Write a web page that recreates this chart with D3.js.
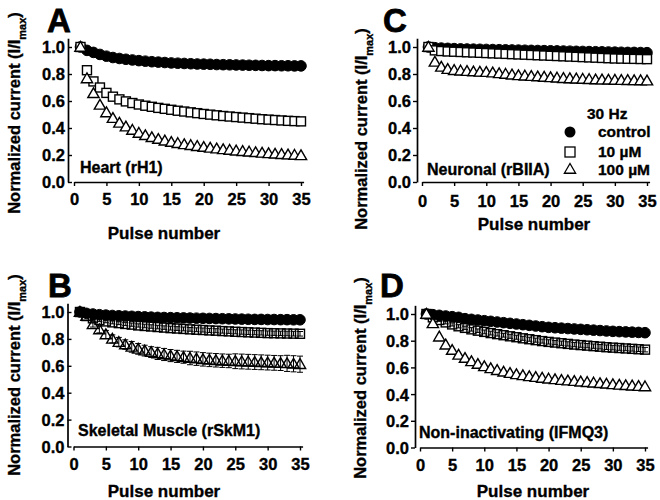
<!DOCTYPE html>
<html><head><meta charset="utf-8">
<script src="https://cdn.jsdelivr.net/npm/d3@7"></script>
<style>body{margin:0;background:#fff}svg{display:block}text{font-family:"Liberation Sans",Arial,sans-serif;font-weight:bold;fill:#000;stroke:#000;stroke-width:0.35px}</style>
</head><body><svg id="c" width="660" height="500"></svg>
<script>
const pulses = d3.range(1, 36);
const xTicks = [0,5,10,15,20,25,30,35];
const yTicks = [0,0.2,0.4,0.6,0.8,1.0];
const legendLabels = ["control","10 µM","100 µM"];
const legendTitle = "30 Hz";

// Panel A: Heart (rH1)
const heartControl = [1.00,0.975,0.96,0.945,0.932,0.922,0.915,0.909,0.904,0.899,0.895,0.891,0.888,0.885,0.882,0.880,0.878,0.876,0.874,0.873,0.872,0.870,0.869,0.868,0.867,0.866,0.865,0.864,0.863,0.862,0.862,0.861,0.861,0.860,0.860];
const heart10 = [1.00,0.828,0.745,0.70,0.66,0.632,0.612,0.597,0.585,0.574,0.565,0.557,0.549,0.542,0.535,0.528,0.522,0.516,0.510,0.504,0.499,0.494,0.489,0.485,0.481,0.477,0.473,0.469,0.465,0.462,0.459,0.456,0.453,0.451,0.449];
const heart100 = [1.00,0.767,0.657,0.571,0.515,0.473,0.438,0.41,0.385,0.363,0.346,0.331,0.318,0.306,0.296,0.287,0.279,0.272,0.265,0.259,0.253,0.247,0.242,0.237,0.232,0.228,0.224,0.220,0.216,0.212,0.209,0.206,0.203,0.200,0.197];

// Panel C: Neuronal (rBIIA)
const neuroControl = [1.00,0.995,0.992,0.99,0.988,0.986,0.985,0.984,0.983,0.982,0.981,0.980,0.979,0.978,0.977,0.976,0.975,0.974,0.973,0.972,0.971,0.970,0.969,0.968,0.967,0.966,0.965,0.964,0.963,0.962,0.961,0.960,0.960,0.959,0.958];
const neuro10 = [1.00,0.975,0.970,0.967,0.965,0.963,0.961,0.959,0.957,0.955,0.953,0.951,0.949,0.947,0.945,0.943,0.941,0.939,0.937,0.935,0.933,0.931,0.929,0.927,0.925,0.923,0.921,0.919,0.917,0.915,0.914,0.913,0.912,0.911,0.910];
const neuro100 = [1.00,0.89,0.853,0.836,0.828,0.824,0.821,0.818,0.816,0.814,0.81,0.805,0.80,0.795,0.79,0.787,0.784,0.781,0.778,0.775,0.772,0.769,0.767,0.765,0.763,0.761,0.759,0.758,0.757,0.756,0.755,0.754,0.753,0.752,0.751];

// Panel B: Skeletal Muscle (rSkM1)
const skelControl = [1.00,0.99,0.985,0.98,0.977,0.974,0.972,0.970,0.968,0.966,0.964,0.962,0.960,0.959,0.958,0.957,0.956,0.955,0.954,0.953,0.952,0.951,0.950,0.949,0.948,0.947,0.946,0.945,0.945,0.944,0.944,0.943,0.943,0.942,0.942];
const skel10 = [1.00,0.97,0.953,0.94,0.93,0.923,0.917,0.911,0.906,0.90,0.896,0.892,0.888,0.884,0.88,0.877,0.874,0.871,0.868,0.866,0.863,0.861,0.858,0.856,0.853,0.851,0.849,0.847,0.845,0.843,0.842,0.841,0.840,0.839,0.838];
const skel10Err = [0,0.006,0.008,0.01,0.01,0.011,0.011,0.012,0.012,0.012,0.013,0.013,0.013,0.013,0.014,0.014,0.014,0.014,0.014,0.015,0.015,0.015,0.015,0.015,0.015,0.016,0.016,0.016,0.016,0.016,0.016,0.016,0.017,0.017,0.017];
const skel100 = [1.00,0.97,0.908,0.87,0.833,0.80,0.776,0.758,0.741,0.726,0.713,0.702,0.692,0.684,0.676,0.670,0.664,0.658,0.653,0.648,0.644,0.641,0.638,0.636,0.634,0.632,0.630,0.628,0.626,0.624,0.622,0.62,0.618,0.615,0.612];
const skel100Err = [0,0.01,0.02,0.025,0.03,0.03,0.035,0.035,0.04,0.04,0.04,0.04,0.045,0.045,0.045,0.045,0.045,0.05,0.05,0.05,0.05,0.05,0.05,0.05,0.055,0.055,0.055,0.055,0.055,0.055,0.055,0.055,0.06,0.06,0.06];

// Panel D: Non-inactivating (IFMQ3)
const nonControl = [1.00,0.995,0.99,0.985,0.98,0.975,0.965,0.96,0.955,0.95,0.945,0.94,0.935,0.93,0.925,0.92,0.915,0.91,0.905,0.90,0.897,0.894,0.891,0.888,0.885,0.882,0.879,0.876,0.873,0.87,0.868,0.866,0.864,0.862,0.86];
const non10 = [1.00,0.975,0.955,0.937,0.922,0.908,0.896,0.885,0.875,0.866,0.857,0.849,0.841,0.833,0.826,0.818,0.811,0.804,0.797,0.791,0.786,0.781,0.776,0.771,0.767,0.763,0.759,0.755,0.751,0.748,0.745,0.742,0.739,0.736,0.733];
const non10Err = [0,0.008,0.01,0.011,0.012,0.012,0.013,0.013,0.013,0.014,0.014,0.014,0.014,0.015,0.015,0.015,0.015,0.015,0.015,0.016,0.016,0.016,0.016,0.016,0.016,0.016,0.016,0.017,0.017,0.017,0.017,0.017,0.017,0.017,0.017];
const non100 = [1.00,0.93,0.83,0.77,0.73,0.694,0.67,0.645,0.625,0.608,0.593,0.579,0.567,0.557,0.548,0.540,0.533,0.527,0.521,0.515,0.510,0.505,0.501,0.497,0.493,0.489,0.485,0.481,0.477,0.473,0.469,0.466,0.463,0.460,0.457];

const panels = [
  {letter:"A", title:"Heart (rH1)", ax:68, x0:74, x35:301, y0:182, y1:47, inward:true,
   lx:47, ly:32, tx:80, ty:173, ylx:20, yly:113, xlx:164, xly:239, tly:205,
   series:[heartControl, heart10, heart100], err:[null,null,null]},
  {letter:"C", title:"Neuronal (rBIIA)", ax:417, x0:422, x35:647, y0:182, y1:47, inward:false,
   lx:383, ly:32, tx:427, ty:175, ylx:367, yly:129, xlx:534, xly:230, tly:207,
   series:[neuroControl, neuro10, neuro100], err:[null,null,null], legend:true},
  {letter:"B", title:"Skeletal Muscle (rSkM1)", ax:67.5, x0:73.5, x35:300, y0:446.5, y1:312, inward:true,
   lx:48, ly:297, tx:78, ty:436, ylx:20, yly:375, xlx:164, xly:497, tly:470,
   series:[skelControl, skel10, skel100], err:[null,skel10Err,skel100Err]},
  {letter:"D", title:"Non-inactivating (IFMQ3)", ax:415, x0:420, x35:645, y0:447.5, y1:314, inward:false,
   lx:380, ly:297, tx:419, ty:438, ylx:366, yly:378, xlx:533, xly:497, tly:471,
   series:[nonControl, non10, non100], err:[null,non10Err,null]}
];

const svg = d3.select("#c");
const tri = d3.symbol().type(d3.symbolTriangle).size(55);
const sq = 9;

panels.forEach(p => {
  const g = svg.append("g");
  const x = d3.scaleLinear().domain([0,35]).range([p.x0, p.x35]);
  const y = d3.scaleLinear().domain([0,1]).range([p.y0, p.y1]);

  // y axis
  const yAx = d3.scaleLinear().domain([0,1.065]).range([p.y0, y(1.065)]);
  const ya = g.append("g").attr("transform",`translate(${p.ax},0)`)
    .call(d3.axisLeft(yAx).tickValues(yTicks).tickFormat(d3.format(".1f"))
      .tickSize(p.inward ? -4 : 4).tickSizeOuter(0).tickPadding(p.inward ? 3 : 2));
  ya.select(".domain").attr("stroke","#000").attr("stroke-width",1.7);
  ya.selectAll(".tick line").attr("stroke","#000").attr("stroke-width",1.4);
  ya.selectAll(".tick text").style("font-size","16.5px").attr("dy","0.36em");

  // x axis
  const xAx = d3.scaleLinear().domain([0,35.4]).range([p.x0, x(35.4)]);
  const xa = g.append("g").attr("transform",`translate(0,${p.y0})`)
    .call(d3.axisBottom(xAx).tickValues(xTicks).tickSize(4).tickSizeOuter(0));
  xa.select(".domain").attr("stroke","#000").attr("stroke-width",1.7);
  xa.selectAll(".tick line").attr("stroke","#000").attr("stroke-width",1.4);
  xa.selectAll(".tick text").style("font-size","16.5px").attr("dy",null).attr("y", p.tly - p.y0);

  // axis titles
  g.append("text").attr("x",p.xlx).attr("y",p.xly).attr("text-anchor","middle")
    .style("font-size","17px").text("Pulse number");
  const yl = g.append("text").attr("transform",`translate(${p.ylx},${p.yly}) rotate(-90)`)
    .attr("text-anchor","middle").style("font-size","16.5px");
  yl.append("tspan").text("Normalized current (I/I");
  yl.append("tspan").attr("baseline-shift","sub").style("font-size","11px").text("max");
  yl.append("tspan").text(")");

  g.append("text").attr("x",p.lx).attr("y",p.ly).style("font-size","33px").style("stroke-width","0.8px").text(p.letter);
  g.append("text").attr("x",p.tx).attr("y",p.ty).style("font-size","16px").text(p.title);

  // error bars
  p.err.forEach((e,i) => {
    if (!e) return;
    const s = p.series[i];
    const eg = g.append("g").attr("stroke","#000").attr("stroke-width",1);
    pulses.forEach((n,k) => {
      if (!e[k]) return;
      const cx = x(n), lo = y(s[k]-e[k]), hi = y(s[k]+e[k]);
      eg.append("line").attr("x1",cx).attr("x2",cx).attr("y1",lo).attr("y2",hi);
      eg.append("line").attr("x1",cx-3).attr("x2",cx+3).attr("y1",lo).attr("y2",lo);
      eg.append("line").attr("x1",cx-3).attr("x2",cx+3).attr("y1",hi).attr("y2",hi);
    });
  });

  // control: filled circles
  g.append("g").selectAll("circle").data(p.series[0]).join("circle")
    .attr("cx",(d,i)=>x(pulses[i])).attr("cy",d=>y(d)).attr("r",5.3)
    .attr("fill","#000").attr("stroke","#000").attr("stroke-width",1);
  // 10 uM: open squares
  g.append("g").selectAll("rect").data(p.series[1]).join("rect")
    .attr("x",(d,i)=>x(pulses[i])-sq/2).attr("y",d=>y(d)-sq/2).attr("width",sq).attr("height",sq)
    .attr("fill", p.err[1] ? "none" : "#fff").attr("stroke","#000").attr("stroke-width",1.4);
  // 100 uM: open triangles
  g.append("g").selectAll("path").data(p.series[2]).join("path")
    .attr("d",tri).attr("transform",(d,i)=>`translate(${x(pulses[i])},${y(d)+1})`)
    .attr("fill", p.err[2] ? "none" : "#fff").attr("stroke","#000").attr("stroke-width",1.4);

  if (p.legend) {
    const lg = g.append("g");
    lg.append("text").attr("x",587).attr("y",119).style("font-size","15.5px").text(legendTitle);
    const ys = [137,157,175];
    legendLabels.forEach((t,i) => {
      lg.append("text").attr("x",598).attr("y",ys[i]).style("font-size","15.5px").text(t);
    });
    lg.append("circle").attr("cx",570).attr("cy",132).attr("r",5.5).attr("fill","#000");
    lg.append("rect").attr("x",565).attr("y",147).attr("width",10).attr("height",10)
      .attr("fill","#fff").attr("stroke","#000").attr("stroke-width",1.3);
    lg.append("path").attr("d",tri).attr("transform","translate(570,170)")
      .attr("fill","#fff").attr("stroke","#000").attr("stroke-width",1.3);
  }
});
</script></body></html>
